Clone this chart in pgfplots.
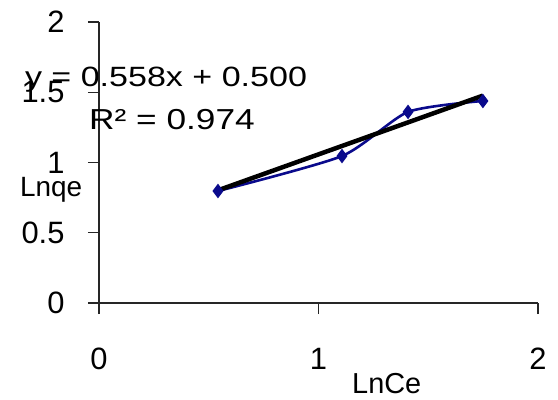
\documentclass[border=0pt]{standalone}
\usepackage{fontspec}
\setmainfont{Liberation Sans}
\usepackage{pgfplots}
\pgfplotsset{compat=1.18}
\definecolor{navyb}{RGB}{10,10,140}
\begin{document}
\begin{tikzpicture}
\useasboundingbox (-99bp,-97bp) rectangle (459bp,303bp);
\begin{axis}[
  at={(0,0)}, anchor=origin,
  scale only axis, width=439bp, height=281bp,
  xmin=0, xmax=2, ymin=0, ymax=2,
  axis lines=left, axis line style={-, line width=1.3bp, black!85},
  xtick={0,1,2}, ytick={0,0.5,1,1.5,2},
  tick align=outside, major tick length=11bp,
  tick style={line width=1.3bp, black!85},
  /pgf/number format/assume math mode=true,
  ticklabel style={font=\fontsize{31}{31}\selectfont},
  xticklabel style={anchor=base, yshift=-55bp},
  yticklabel style={anchor=east, xshift=-20bp},
  clip=false,
]
\addplot[navyb, line width=2.6bp, smooth, tension=0.4, mark=diamond*, mark size=6.5bp, mark options={fill=navyb, draw=navyb, line width=1bp}]
  coordinates {(0.542,0.797) (1.107,1.046) (1.408,1.360) (1.749,1.438)};
\addplot[black, line width=4.5bp] coordinates {(0.542,0.802) (1.749,1.476)};
\end{axis}
\node[anchor=base, xscale=1.22, font=\fontsize{28}{28}\selectfont] at (67bp,216bp) {y = 0.558x + 0.500};
\node[anchor=base, xscale=1.22, font=\fontsize{29}{29}\selectfont] at (73bp,173bp) {R² = 0.974};
\node[anchor=base west, inner sep=0pt, font=\fontsize{28}{28}\selectfont] at (-79bp,106bp) {Lnqe};
\node[anchor=base west, inner sep=0pt, font=\fontsize{29}{29}\selectfont] at (253bp,-90bp) {LnCe};
\end{tikzpicture}
\end{document}
